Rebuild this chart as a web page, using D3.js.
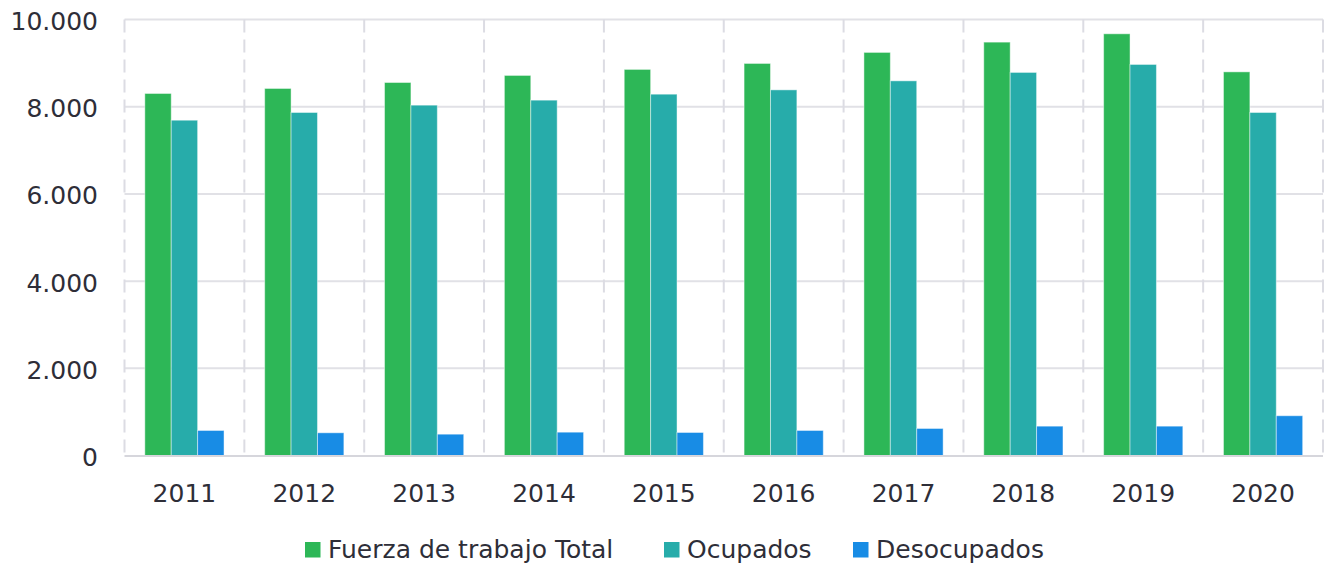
<!DOCTYPE html>
<html><head><meta charset="utf-8">
<script src="https://cdn.jsdelivr.net/npm/d3@7"></script>
<style>
body{margin:0;background:#fff;}
text{font-family:"DejaVu Sans",sans-serif;fill:#2e2e38;}
</style></head>
<body><svg id="c" width="1325" height="566"></svg>
<script>
const years = ["2011","2012","2013","2014","2015","2016","2017","2018","2019","2020"];
const fuerza = [8305, 8420, 8557, 8719, 8857, 8994, 9247, 9483, 9674, 8801];
const ocupados = [7692, 7869, 8037, 8152, 8289, 8388, 8595, 8788, 8971, 7869];
const desocupados = [574, 521, 489, 535, 528, 574, 620, 673, 673, 912];
const seriesNames = ["Fuerza de trabajo Total", "Ocupados", "Desocupados"];
const colors = ["#2DB757", "#27ACAA", "#188CE5"];
const yTicks = [0, 2000, 4000, 6000, 8000, 10000];

const svg = d3.select("#c");
const m = {l:124.5, r:1323, t:19.6, b:455.5};
const x = d3.scaleBand().domain(years).range([m.l, m.r]).paddingInner(0).paddingOuter(0);
const x1 = d3.scaleBand().domain(seriesNames).range([0, x.bandwidth()]).paddingOuter(0.77).paddingInner(0);
const y = d3.scaleLinear().domain([0, 10000]).range([m.b, m.t]);
const fmt = d => d3.format(",")(d).replace(/,/g, ".");

// horizontal gridlines
svg.append("g").selectAll("line").data(yTicks.filter(d=>d>0)).join("line")
  .attr("x1", m.l).attr("x2", m.r).attr("y1", d=>y(d)).attr("y2", d=>y(d))
  .attr("stroke", "#e1e1e6").attr("stroke-width", 2);
// vertical dashed gridlines
const bounds = years.map(d => x(d)).concat([m.r]);
svg.append("g").selectAll("line").data(bounds).join("line")
  .attr("x1", d=>d).attr("x2", d=>d).attr("y1", m.t).attr("y2", m.b)
  .attr("stroke", "#dcdce3").attr("stroke-width", 2)
  .attr("stroke-dasharray", "13,7");

// bars
const data = years.map((yr,i)=>({yr, vals:[fuerza[i], ocupados[i], desocupados[i]]}));
const g = svg.append("g").selectAll("g").data(data).join("g")
  .attr("transform", d=>`translate(${x(d.yr)},0)`);
g.selectAll("rect").data(d=>d.vals.map((v,j)=>({v,j}))).join("rect")
  .attr("x", d=>x1(seriesNames[d.j]))
  .attr("width", x1.bandwidth())
  .attr("y", d=>y(d.v))
  .attr("height", d=>y(0)-y(d.v))
  .attr("fill", d=>colors[d.j])
  .attr("stroke", "rgba(255,255,255,0.45)").attr("stroke-width", 1);

// baseline
svg.append("line").attr("x1", m.l).attr("x2", m.r).attr("y1", m.b+0.5).attr("y2", m.b+0.5)
  .attr("stroke", "#d6d6dc").attr("stroke-width", 2);

// y axis labels
const yAxis = d3.axisLeft(y).tickValues(yTicks).tickFormat(fmt).tickSize(0).tickPadding(0);
const ya = svg.append("g").attr("transform", `translate(98,0)`).call(yAxis);
ya.select(".domain").remove();
ya.selectAll("text").style("font-size","25px").attr("font-family", null).attr("fill","#2e2e38").attr("dy","0.4em");

// x axis labels
const xAxis = d3.axisBottom(x).tickSize(0).tickPadding(0);
const xa = svg.append("g").attr("transform", `translate(0,501.5)`).call(xAxis);
xa.select(".domain").remove();
xa.selectAll("text").style("font-size","25px").attr("font-family", null).attr("fill","#2e2e38").attr("y",0).attr("dy","0");

// legend
const legX = [305, 664, 853];
const lg = svg.append("g").selectAll("g").data(seriesNames).join("g")
  .attr("transform", (d,i)=>`translate(${legX[i]},542)`);
lg.append("rect").attr("width", 15.5).attr("height", 15.5).attr("fill", (d,i)=>colors[i]);
lg.append("text").attr("x", 23).attr("y", 15.5).style("font-size","25px").text(d=>d);
</script></body></html>
